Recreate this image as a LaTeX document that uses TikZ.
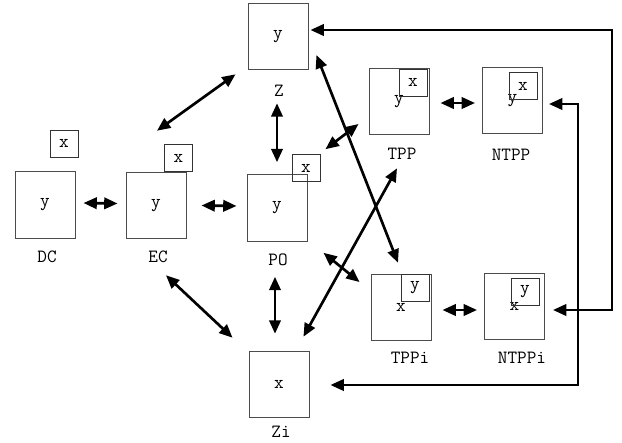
\documentclass[tikz,border=0pt]{standalone}
\usepackage{fontspec}
\usetikzlibrary{arrows.meta,calc,positioning}

\begin{document}
\begin{tikzpicture}[x=.75pt,y=-.75pt,
  font=\ttfamily\fontsize{14}{16}\selectfont,
  region/.style={draw=black!70,line width=.7pt,minimum width=45pt,minimum height=50pt,inner sep=0pt},
  part/.style={draw=black!80,line width=.7pt,minimum width=21pt,minimum height=20.3pt,inner sep=0pt},
  rel/.style={line width=2pt,{Triangle[length=10pt,width=8.5pt]}-{Triangle[length=10pt,width=8.5pt]}}]
\useasboundingbox (0,0) rectangle (622,443);
% the nine relations, y is the big region
\foreach \n/\cx/\cy/\t in {dc/45/205/y,ec/156/205.5/y,po/277/208/y,z/278/36.5/y,
  tpp/399/101.5/y,ntpp/512.5/100.5/y,tppi/401/307.5/x,ntppi/514.5/306.5/x,zi/279/384.5/x}{
  \node[region] (\n) at (\cx,\cy) {\t};
}
% the smaller region
\foreach \n/\cx/\cy/\t in {dc/64/143.5/x,ec/178.5/158/x,po/306/168/x,tpp/413/82.5/x,
  ntpp/523/86/x,tppi/415/288/y,ntppi/525/291.5/y}{
  \node[part] (\n-in) at (\cx,\cy) {\t};
}
% names
\foreach \n/\cx/\cy/\t in {dc/47/257/DC,ec/158/257/EC,po/278/260/PO,z/279/91/Z,
  tpp/402/154/TPP,ntpp/511/155/NTPP,tppi/410/358/TPPi,ntppi/522/358/NTPPi,zi/281/432/Zi}{
  \node (\n-name) at (\cx,\cy) {\t};
}
% neighbourhood
\draw[rel] ([shift={(8,-2)}]dc.east) -- ([shift={(-8,-2)}]ec.west);
\draw[rel] ([shift={(15,0)}]ec.east) -- ([shift={(-10,-2)}]po.west);
\draw[rel] ([shift={(-12,4)}]z.south west) -- ([shift={(1,-41)}]ec.north);
\draw[rel] ([shift={(-1,33)}]z.south) -- ([shift={(0,-12)}]po.north);
\draw[rel] ([shift={(18,-25)}]po.north east) -- ([shift={(-10,22.5)}]tpp.west);
\draw[rel] ([shift={(8,18.5)}]z.east) -- ([shift={(-3,-11)}]tppi.north);
\draw[rel] ([shift={(-2,33)}]tpp.south) -- ([shift={(-6,-14)}]zi.north east);
\draw[rel] ([shift={(16,11)}]po.south east) -- ([shift={(-11,-25.5)}]tppi.west);
\draw[rel] ([shift={(-2,35)}]po.south) -- ([shift={(-4,-17)}]zi.north);
\draw[rel] ([shift={(10,36)}]ec.south) -- ([shift={(-16,-13)}]zi.north west);
\draw[rel] ([shift={(11,1.5)}]tpp.east) -- ([shift={(-7,2.5)}]ntpp.west);
\draw[rel] ([shift={(11,2.5)}]tppi.east) -- ([shift={(-7,3.5)}]ntppi.west);
% long way round
\coordinate (ra) at (612,310);
\coordinate (rb) at (578,385);
\draw[rel] ([shift={(2,-6.5)}]z.east) -| (ra) -- ([shift={(8,3.5)}]ntppi.east);
\draw[rel] ([shift={(6,3.5)}]ntpp.east) -| (rb) -- ([shift={(21,.5)}]zi.east);
\end{tikzpicture}
\end{document}
